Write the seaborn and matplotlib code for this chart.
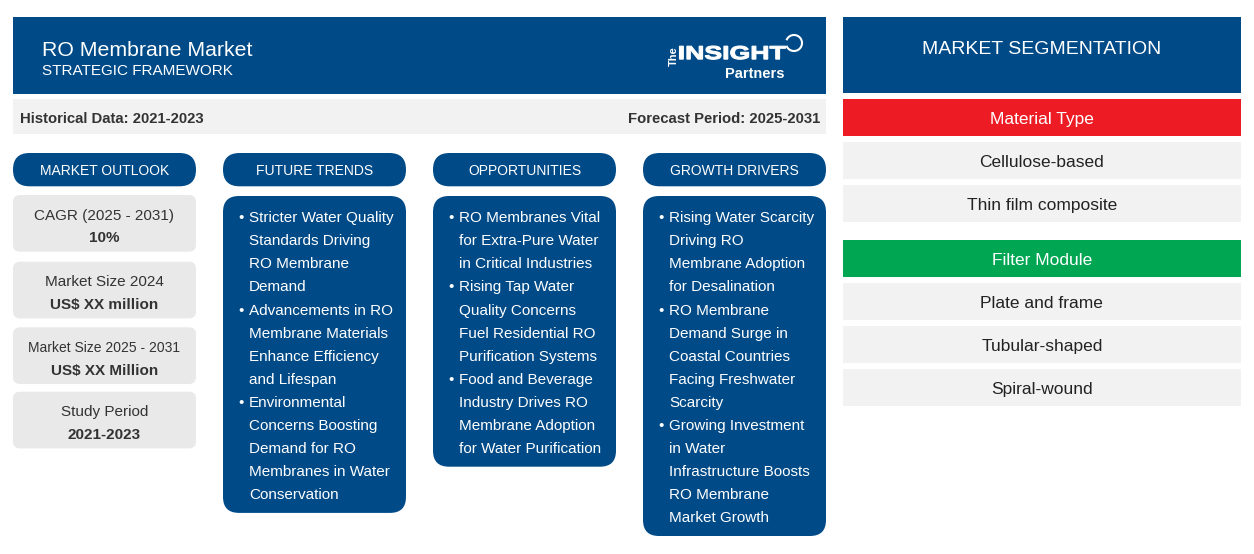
import matplotlib
matplotlib.use("Agg")
import matplotlib.pyplot as plt
import seaborn as sns
from matplotlib.patches import FancyBboxPatch, Rectangle, PathPatch, Arc
from matplotlib.textpath import TextPath
from matplotlib.font_manager import FontProperties
from matplotlib.transforms import Affine2D

# 텍스트 데이터
title = "RO Membrane Market"
subtitle = "STRATEGIC FRAMEWORK"
historical = "Historical Data: 2021-2023"
forecast = "Forecast Period: 2025-2031"

column_titles = ["MARKET OUTLOOK", "FUTURE TRENDS", "OPPORTUNITIES", "GROWTH DRIVERS"]

outlook_labels = ["CAGR (2025 - 2031)", "Market Size 2024", "Market Size 2025 - 2031", "Study Period"]
outlook_values = ["10%", "US$ XX million", "US$ XX Million", "2021-2023"]

trends = [
    ["Stricter Water Quality", "Standards Driving", "RO Membrane", "Demand"],
    ["Advancements in RO", "Membrane Materials", "Enhance Efficiency", "and Lifespan"],
    ["Environmental", "Concerns Boosting", "Demand for RO", "Membranes in Water", "Conservation"],
]
opportunities = [
    ["RO Membranes Vital", "for Extra-Pure Water", "in Critical Industries"],
    ["Rising Tap Water", "Quality Concerns", "Fuel Residential RO", "Purification Systems"],
    ["Food and Beverage", "Industry Drives RO", "Membrane Adoption", "for Water Purification"],
]
drivers = [
    ["Rising Water Scarcity", "Driving RO", "Membrane Adoption", "for Desalination"],
    ["RO Membrane", "Demand Surge in", "Coastal Countries", "Facing Freshwater", "Scarcity"],
    ["Growing Investment", "in Water", "Infrastructure Boosts", "RO Membrane", "Market Growth"],
]

segment_title = "MARKET SEGMENTATION"
segments = ["Material Type", "Filter Module"]
segment_items = [
    ["Cellulose-based", "Thin film composite"],
    ["Plate and frame", "Tubular-shaped", "Spiral-wound"],
]

# 색상
BLUE = "#004A87"
GREY_BAR = "#F2F2F2"
GREY_BOX = "#E9E9E9"
SEG_COLORS = ["#ED1C24", "#00A651"]

sns.set_theme(style="white")
plt.rcParams['font.family'] = ['Liberation Sans', 'DejaVu Sans']

fig = plt.figure(figsize=(12.54, 5.54), dpi=100)
ax = fig.add_axes([0, 0, 1, 1])
ax.set_xlim(0, 1254)
ax.set_ylim(554, 0)
ax.axis('off')


def txt(x, yc, s, size, color="white", ha="left", weight="normal", **kw):
    # 대문자 높이 중심 기준으로 baseline 위치 계산
    em = size * 100 / 72
    ax.text(x, yc + 0.358 * em, s, fontsize=size, color=color, ha=ha,
            va="baseline", fontweight=weight, **kw)


def box(x, y, w, h, color, r=0):
    if r == 0:
        ax.add_patch(Rectangle((x, y), w, h, facecolor=color, edgecolor="none"))
    else:
        ax.add_patch(FancyBboxPatch((x, y), w, h, boxstyle=f"round,pad=0,rounding_size={r}",
                                    facecolor=color, edgecolor="none"))


# 헤더
box(13, 17, 813, 77, BLUE)
txt(42, 48, title, 15.3)
txt(42, 70, subtitle, 11)

# 로고
fp = FontProperties(family='Liberation Sans', weight='bold')
tp = TextPath((0, 0), "INSIGHT", size=1, prop=fp)
ext = tp.get_extents()
sx = 106 / ext.width
sy = 13.3 / (ext.y1 - ext.y0)
tr = Affine2D().translate(-ext.x0, -ext.y0).scale(sx, -sy).translate(679.5, 59.3)
ax.add_patch(PathPatch(tr.transform_path(tp), facecolor="white", edgecolor="white", lw=0.8))
ax.text(674, 56.5, "The", fontsize=8, color="white", fontweight="bold",
        rotation=90, ha="center", va="center")
txt(784, 73, "Partners", 10.5, ha="right", weight="bold")
ax.add_patch(Arc((794, 43), 16, 16, theta1=200, theta2=160, color="white", lw=1.5))

# 기간 바
box(13, 99, 813, 35, GREY_BAR)
txt(20, 117.5, historical, 10.7, color="#333333", weight="bold")
txt(820, 117.5, forecast, 10.7, color="#333333", weight="bold", ha="right")

# 컬럼
col_x = [13, 223, 433, 643]
col_w = 183
for cx, ct in zip(col_x, column_titles):
    box(cx, 153, col_w, 33.3, BLUE, r=16.6)
    txt(cx + col_w / 2, 170, ct, 10, ha="center")

# 마켓 아웃룩
mo_top = [195, 261.7, 327.3, 391.7]
for top, lab, val in zip(mo_top, outlook_labels, outlook_values):
    box(13, top, col_w, 56.7, GREY_BOX, r=7)
    size = 10 if len(lab) > 20 else 11
    txt(13 + col_w / 2, top + 19.3, lab, size, color="#333333", ha="center")
    txt(13 + col_w / 2, top + 42, val, 11, color="#333333", ha="center", weight="bold")

# 불릿 박스
line_h = 23.1
for cx, bullets in zip(col_x[1:], [trends, opportunities, drivers]):
    n_lines = sum(len(b) for b in bullets)
    bottom = 216.7 + (n_lines - 1) * line_h + 19
    box(cx, 196, col_w, bottom - 196, BLUE, r=16)
    y = 216.7
    for b in bullets:
        txt(cx + 18, y, "•", 11, ha="center")
        for line in b:
            txt(cx + 26, y, line, 11)
            y += line_h

# 시장 세분화
seg_x, seg_w = 843, 397.7
box(seg_x, 17.3, seg_w, 76, BLUE)
txt(seg_x + seg_w / 2, 46.7, segment_title, 14, ha="center")
y = 99
for name, color, items in zip(segments, SEG_COLORS, segment_items):
    box(seg_x, y, seg_w, 37.3, color)
    txt(seg_x + seg_w / 2, y + 18.8, name, 12.5, ha="center")
    y += 43
    for it in items:
        box(seg_x, y, seg_w, 37.3, GREY_BAR)
        txt(seg_x + seg_w / 2, y + 18.8, it, 12.5, color="#222222", ha="center")
        y += 43
    y += 12

fig.savefig("out.png", dpi=100)
